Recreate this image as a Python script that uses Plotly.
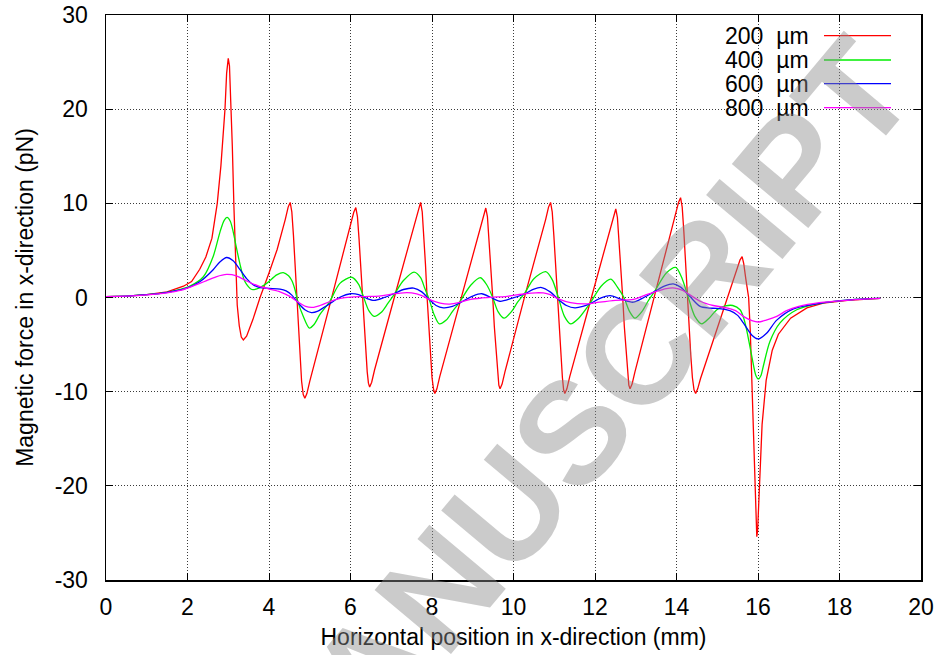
import plotly.graph_objects as go

# ---------------- data ----------------
series_names = ["200  µm", "400  µm", "600  µm", "800  µm"]
series_colors = ["#ff0000", "#00ee00", "#0000ff", "#ff00ff"]

x_200 = [0.0, 0.5, 1.0, 1.5, 1.9, 2.1, 2.3, 2.45, 2.6, 2.73, 2.82, 2.88, 2.92, 2.96, 3.0, 3.03, 3.06, 3.1, 3.14, 3.18,
         3.22, 3.27, 3.32, 3.37, 3.45, 3.6, 3.78, 4.0, 4.2, 4.4, 4.47, 4.52,
         4.56, 4.60, 4.64, 4.68, 4.72, 4.76, 4.80, 4.84, 4.88,
         4.93, 5.0, 5.5, 6.01, 6.08, 6.13,
         6.17, 6.21, 6.25, 6.29, 6.33, 6.37, 6.41, 6.44, 6.47,
         6.52, 6.59, 7.1, 7.6, 7.67, 7.72,
         7.76, 7.80, 7.84, 7.88, 7.92, 7.96, 8.0, 8.04, 8.07,
         8.12, 8.19, 8.7, 9.2, 9.27, 9.32,
         9.36, 9.40, 9.44, 9.49, 9.53, 9.57, 9.61, 9.64, 9.67,
         9.72, 9.79, 10.28, 10.79, 10.86, 10.91,
         10.95, 10.99, 11.03, 11.08, 11.12, 11.16, 11.2, 11.23, 11.26,
         11.31, 11.38, 11.88, 12.39, 12.46, 12.51,
         12.55, 12.59, 12.63, 12.68, 12.72, 12.76, 12.8, 12.83, 12.86,
         12.91, 12.98, 13.47, 13.98, 14.05, 14.1,
         14.14, 14.18, 14.22, 14.27, 14.31, 14.35, 14.39, 14.43, 14.47,
         14.52, 14.59, 15.0, 15.5, 15.56, 15.61,
         15.65, 15.7, 15.77, 15.81, 15.85, 15.89, 15.92, 15.95, 15.97, 15.99,
         16.03, 16.1, 16.2, 16.35, 16.5, 16.8, 17.2, 17.6, 18.2, 19.0]
f_200 = [0.1, 0.15, 0.3, 0.6, 1.2, 1.7, 3.0, 4.3, 6.3, 10.0, 14.0, 17.5, 20.0, 23.8, 25.4, 24.6, 21.5, 16.0, 9.5, 3.5,
         -0.8, -3.0, -4.2, -4.5, -4.1, -2.4, 0.0, 2.6, 5.1, 8.3, 9.6, 10.1,
         9.1, 6.6, 3.5, 0.0, -3.4, -6.4, -8.9, -10.3, -10.7,
         -10.2, -8.9, -0.65, 7.75, 9.05, 9.55,
         8.6, 6.2, 3.3, 0.0, -3.0, -5.7, -7.9, -9.1, -9.5,
         -9.0, -7.7, 0.4, 8.3, 9.6, 10.1,
         9.1, 6.6, 3.5, 0.0, -3.3, -6.1, -8.5, -9.8, -10.2,
         -9.7, -8.4, -0.3, 7.7, 9.0, 9.5,
         8.6, 6.2, 3.3, 0.0, -3.1, -5.8, -8.1, -9.3, -9.7,
         -9.2, -7.9, 0.2, 8.3, 9.6, 10.1,
         9.1, 6.6, 3.5, 0.0, -3.3, -6.1, -8.5, -9.8, -10.2,
         -9.7, -8.4, -0.5, 7.6, 8.9, 9.4,
         8.5, 6.1, 3.2, 0.0, -3.1, -5.8, -8.1, -9.3, -9.7,
         -9.2, -7.9, 0.4, 8.8, 10.1, 10.6,
         9.6, 7.0, 3.7, 0.0, -3.3, -6.1, -8.5, -9.8, -10.2,
         -9.7, -8.6, -3.3, 3.1, 4.0, 4.35,
         3.6, 2.0, 0.0, -3.5, -9.0, -15.5, -20.5, -24.2, -25.4, -24.8,
         -20.0, -13.5, -8.8, -5.6, -3.9, -2.2, -1.1, -0.6, -0.3, -0.1]

x_400 = [0.0, 0.5, 1.0, 1.5, 1.82, 2.06, 2.39, 2.63, 2.8, 2.9, 2.97, 3.05, 3.12, 3.2, 3.29, 3.38, 3.45, 3.58, 3.75, 3.94,
         4.19, 4.35, 4.48, 4.56, 4.64, 4.70, 4.84, 4.99, 5.1, 5.25, 5.48, 5.74, 6.03, 6.2, 6.3, 6.45, 6.58, 6.75, 6.92, 7.09,
         7.3, 7.56, 7.72, 7.82, 7.93, 8.05, 8.18, 8.35, 8.5, 8.69, 8.95, 9.19, 9.35, 9.49, 9.62, 9.77, 9.95, 10.1, 10.28, 10.5,
         10.79, 10.95, 11.1, 11.25, 11.4, 11.6, 11.88, 12.15, 12.39, 12.55, 12.71, 12.85, 12.98, 13.15, 13.3, 13.47, 13.75,
         13.98, 14.12, 14.29, 14.45, 14.62, 14.8, 14.99, 15.2, 15.38, 15.56, 15.65, 15.72, 15.85, 15.95, 16.01, 16.07, 16.13,
         16.29, 16.54, 16.95, 17.44, 18.26, 19.0]
f_400 = [0.1, 0.15, 0.3, 0.55, 0.85, 1.2, 2.2, 4.35, 7.0, 8.2, 8.5, 8.1, 7.0, 5.3, 3.5, 2.0, 1.4, 0.85, 1.0, 1.5,
         2.4, 2.65, 2.3, 1.8, 0.8, -0.3, -2.0, -3.25, -2.9, -1.8, -0.5, 1.5, 2.15, 1.4, 0.3, -1.4, -2.0, -1.6, -0.6, 0.45,
         1.8, 2.7, 2.1, 1.0, -0.2, -1.8, -2.8, -2.4, -1.5, -0.4, 1.3, 2.1, 1.3, 0.0, -1.5, -2.2, -1.5, -0.5, 0.5, 2.0,
         2.75, 1.9, 0.0, -2.0, -2.8, -2.2, -0.6, 1.2, 1.95, 1.1, 0.0, -1.5, -2.2, -1.5, -0.4, 0.7, 2.6,
         3.2, 2.2, 0.0, -2.0, -2.8, -2.2, -1.3, -0.9, -0.85, -1.3, -2.2, -3.4, -6.3, -8.3, -8.65, -8.3, -7.3,
         -4.7, -2.7, -1.3, -0.67, -0.25, -0.1]

x_600 = [0.0, 0.5, 1.0, 1.5, 1.98, 2.31, 2.63, 2.8, 2.96, 3.12, 3.29, 3.45, 3.61, 3.78, 4.0, 4.27, 4.42, 4.56, 4.72, 4.88,
         5.04, 5.2, 5.33, 5.48, 5.75, 6.0, 6.2, 6.4, 6.58, 6.8, 7.09, 7.3, 7.55, 7.75, 7.93, 8.1, 8.28, 8.5, 8.69, 9.0,
         9.22, 9.45, 9.67, 9.95, 10.28, 10.5, 10.69, 10.9, 11.1, 11.3, 11.51, 11.7, 11.88, 12.15, 12.37, 12.65, 12.94, 13.2,
         13.47, 13.7, 13.92, 14.1, 14.33, 14.58, 14.8, 14.99, 15.31, 15.5, 15.64, 15.85, 16.01, 16.21, 16.46, 16.87, 17.44,
         18.26, 19.0]
f_600 = [0.1, 0.15, 0.3, 0.55, 1.0, 1.7, 2.95, 3.8, 4.25, 3.9, 2.95, 2.0, 1.35, 1.05, 0.97, 0.9, 0.7, 0.25, -0.6, -1.3,
         -1.6, -1.45, -1.1, -0.7, 0.05, 0.4, 0.3, -0.1, -0.3, -0.05, 0.45, 0.85, 1.0, 0.6, -0.2, -0.85, -1.1, -0.95, -0.55, 0.15,
         0.4, 0.0, -0.4, -0.1, 0.4, 0.9, 1.06, 0.6, -0.2, -0.85, -1.1, -0.95, -0.65, -0.05, 0.2, -0.2, -0.5, 0.0,
         0.65, 1.2, 1.45, 1.1, 0.1, -0.95, -1.12, -1.16, -1.4, -1.9, -2.7, -4.0, -4.4, -3.8, -2.4, -1.2, -0.67,
         -0.25, -0.1]

x_800 = [0.0, 0.5, 1.0, 1.5, 1.82, 2.06, 2.3, 2.47, 2.7, 2.96, 3.2, 3.45, 3.75, 4.0, 4.27, 4.5, 4.72, 4.9, 5.07, 5.25,
         5.48, 5.75, 6.0, 6.35, 6.7, 7.09, 7.3, 7.5, 7.75, 7.93, 8.2, 8.44, 8.69, 8.95, 9.22, 9.5, 9.8, 10.28, 10.55, 10.73,
         10.9, 11.1, 11.4, 11.8, 12.1, 12.5, 12.94, 13.2, 13.47, 13.75, 13.96, 14.15, 14.33, 14.58, 14.9, 15.23, 15.45, 15.64,
         15.85, 16.01, 16.2, 16.46, 16.7, 17.0, 17.5, 17.93, 18.5, 19.0]
f_800 = [0.1, 0.15, 0.28, 0.5, 0.75, 1.1, 1.5, 1.8, 2.2, 2.45, 2.3, 1.75, 1.2, 0.9, 0.6, 0.15, -0.5, -0.95, -1.05, -0.85,
         -0.45, -0.1, 0.05, 0.1, 0.15, 0.4, 0.5, 0.48, 0.2, -0.2, -0.6, -0.7, -0.5, -0.2, -0.05, 0.05, 0.1, 0.4, 0.5, 0.48,
         0.3, -0.15, -0.55, -0.68, -0.5, -0.3, -0.2, 0.2, 0.6, 0.95, 1.0, 0.75, 0.28, -0.4, -0.85, -1.1, -1.4, -2.0,
         -2.45, -2.6, -2.4, -2.0, -1.4, -0.95, -0.55, -0.38, -0.2, -0.1]

x_tick_vals = [0, 2, 4, 6, 8, 10, 12, 14, 16, 18, 20]
x_tick_labels = ["0", "2", "4", "6", "8", "10", "12", "14", "16", "18", "20"]
y_tick_vals = [-30, -20, -10, 0, 10, 20, 30]
y_tick_labels = ["-30", "-20", "-10", "0", "10", "20", "30"]

x_title = "Horizontal position in x-direction (mm)"
y_title = "Magnetic force in x-direction (pN)"
watermark_text = "MANUSCRIPT"

# ---------------- figure ----------------
FONT = "Liberation Sans, Arial, Helvetica, sans-serif"
W, H = 939, 655
L, R, T, B = 106, 18, 15, 75
PL, PR, PT, PB = L, W - R, T, H - B   # plot area in pixels


def px(xp):
    return (xp - PL) / (PR - PL)


def py(yp):
    return (PB - yp) / (PB - PT)


xs = [x_200, x_400, x_600, x_800]
fs = [f_200, f_400, f_600, f_800]
shapes_ = ["linear", "spline", "spline", "spline"]

fig = go.Figure()
for name, color, xv, fv, shp in zip(series_names, series_colors, xs, fs, shapes_):
    fig.add_trace(go.Scatter(
        x=xv, y=fv, mode="lines", name=name, showlegend=False,
        line=dict(color=color, width=1.3, shape=shp, smoothing=0.8 if shp == "spline" else None),
    ))

axis_common = dict(
    showline=True, linecolor="black", linewidth=1.5, mirror="ticks",
    ticks="inside", ticklen=7, tickwidth=1, tickcolor="black",
    showgrid=True, gridcolor="#3a3a3a", gridwidth=1, griddash="1px,2px",
    zeroline=False, tickfont=dict(family=FONT, size=23, color="black"),
    ticklabeloverflow="allow",
)

fig.update_xaxes(range=[0, 20], tickmode="array", tickvals=x_tick_vals, ticktext=x_tick_labels,
                 title=dict(text=x_title, font=dict(family=FONT, size=23, color="black"), standoff=10),
                 ticklabelstandoff=6, **axis_common)
fig.update_yaxes(range=[-30, 30], tickmode="array", tickvals=y_tick_vals, ticktext=y_tick_labels,
                 title=dict(text=y_title, font=dict(family=FONT, size=23, color="black"), standoff=14),
                 ticklabelstandoff=12, **axis_common)

shapes = [dict(type="rect", xref="paper", yref="paper", x0=px(707), x1=px(910), y0=py(118), y1=py(18),
               fillcolor="white", line=dict(width=0), layer="between")]
annotations = []
legend_rows = [35.7, 60.0, 83.7, 107.7]
for name, color, ry in zip(series_names, series_colors, legend_rows):
    annotations.append(dict(text=name.replace("  ", "\u00a0\u00a0"), xref="paper", yref="paper",
                            x=px(811), y=py(ry), xanchor="right", yanchor="middle", showarrow=False,
                            font=dict(family=FONT, size=23, color="black")))
    shapes.append(dict(type="line", xref="paper", yref="paper", x0=px(824), x1=px(891), y0=py(ry), y1=py(ry),
                       line=dict(color=color, width=1.3)))

annotations.append(dict(text="<b>" + watermark_text + "</b>", xref="paper", yref="paper", x=px(572), y=py(432),
                        xanchor="center", yanchor="middle", showarrow=False, textangle=-50,
                        font=dict(family=FONT, size=145, color="rgba(140,140,140,0.45)")))

fig.update_layout(
    width=W, height=H, margin=dict(l=L, r=R, t=T, b=B, autoexpand=False),
    paper_bgcolor="white", plot_bgcolor="white",
    showlegend=False, shapes=shapes, annotations=annotations,
    font=dict(family=FONT, size=23, color="black"),
    hovermode=False,
)

fig.write_html("out.html", config={"displayModeBar": False, "staticPlot": True},
               post_script="document.body.style.margin='0';")
